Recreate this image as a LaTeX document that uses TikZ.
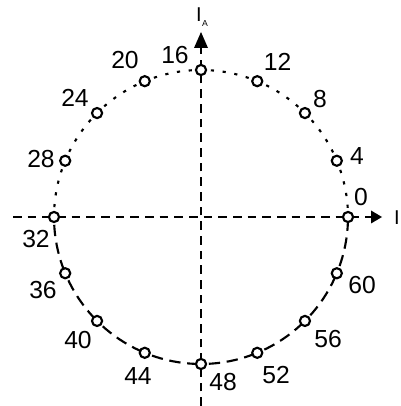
\documentclass[tikz,border=0pt]{standalone}
\usepackage{fontspec}
\setmainfont{Liberation Sans}
\usetikzlibrary{calc}
\begin{document}
\begin{tikzpicture}[x=0.75pt,y=0.75pt,
  lbl/.style={inner sep=0pt,font=\fontsize{18.5}{20}\selectfont},
  axlbl/.style={inner sep=0pt,font=\fontsize{15}{16}\selectfont},
  sublbl/.style={inner sep=0pt,font=\fontsize{6.5}{7}\selectfont},
  mk/.style={circle,draw,fill=white,line width=1.6pt,minimum size=7.6pt,inner sep=0pt},
  axis/.style={line width=1.5pt,dash pattern=on 6.5pt off 4.5pt},
  upperarc/.style={line width=1.6pt,dash pattern=on 2.4pt off 6.5pt,dash phase=-3pt},
  lowerarc/.style={line width=1.6pt,dash pattern=on 8.5pt off 5pt,dash phase=-2pt},
  tip/.style={fill=black,draw=none}]
\useasboundingbox (0,0) rectangle (400,406);
\coordinate (c) at (201,189);
% axes
\coordinate (hL) at (13,189);
\coordinate (hR) at (371,189);
\coordinate (vB) at (201,0);
\coordinate (vT) at (201,358);
\draw[axis] (hL) -- (hR);
\draw[axis] (vB) -- (vT);
\fill[tip] (371,195.5) -- (382,189) -- (371,182.5) -- cycle;
\fill[tip] (194,358) -- (201,374) -- (208,358) -- cycle;
\node[axlbl] (Ilab) at (397,188) {I};
\node[axlbl] (IAlab) at (199,391) {I};
\node[sublbl] (Asub) at (205,382) {A};
% circle segments
\foreach \k in {0,...,7}{
  \draw[upperarc] ($(c)+({22.5*\k+2}:147)$) arc[start angle={22.5*\k+2}, end angle={22.5*(\k+1)-2}, radius=110.25pt];
}
\foreach \k in {8,...,15}{
  \draw[lowerarc] ($(c)+({22.5*\k+2}:147)$) arc[start angle={22.5*\k+2}, end angle={22.5*(\k+1)-2}, radius=110.25pt];
}
% markers
\foreach \k in {0,...,15}{
  \node[mk] (m\k) at ($(c)+({22.5*\k}:147)$) {};
}
% labels
\node[lbl] (l0) at (361,209) {0};
\node[lbl] (l4) at (357,250) {4};
\node[lbl] (l8) at (320,307) {8};
\node[lbl] (l12) at (277.5,344) {12};
\node[lbl] (l16) at (175,351) {16};
\node[lbl] (l20) at (125,346) {20};
\node[lbl] (l24) at (75,308.5) {24};
\node[lbl] (l28) at (41,247) {28};
\node[lbl] (l32) at (36,167) {32};
\node[lbl] (l36) at (43,116) {36};
\node[lbl] (l40) at (78,66) {40};
\node[lbl] (l44) at (138,30) {44};
\node[lbl] (l48) at (223,24) {48};
\node[lbl] (l52) at (276,30.5) {52};
\node[lbl] (l56) at (328,67) {56};
\node[lbl] (l60) at (362,120.5) {60};
\end{tikzpicture}
\end{document}
